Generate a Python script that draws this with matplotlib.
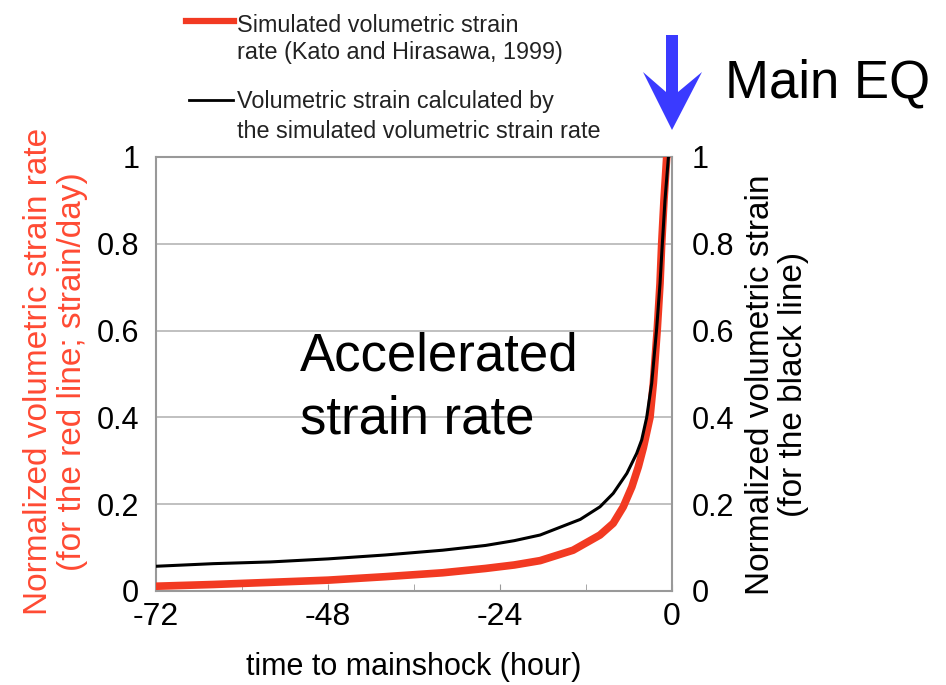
import matplotlib
matplotlib.use("Agg")
import matplotlib.pyplot as plt
from matplotlib.lines import Line2D
from matplotlib.patches import Polygon

plt.rcParams['font.family'] = ['Liberation Sans', 'DejaVu Sans']
plt.rcParams['axes.unicode_minus'] = False

# hours before the main shock
t_rate = [-72, -64, -56, -48, -40, -32, -26, -22, -18.4, -13.8, -10.05, -8.2, -6.8,
          -5.6, -4.7, -4.0, -3.07, -2.6, -2.05, -1.67, -1.44, -1.12, -0.74]
rate = [0.011, 0.015, 0.020, 0.025, 0.033, 0.042, 0.052, 0.060, 0.070, 0.094, 0.129,
        0.156, 0.194, 0.24, 0.286, 0.33, 0.40, 0.479, 0.605, 0.709, 0.80, 0.90, 1.0]

t_strain = [-72, -64, -56, -48, -40, -32, -26, -22, -18.4, -15.6, -12.8, -10.05, -8.2,
            -6.3, -4.93, -4.23, -3.53, -2.83, -2.14, -1.67, -1.35, -0.98, -0.5]
strain = [0.057, 0.063, 0.067, 0.074, 0.083, 0.094, 0.105, 0.116, 0.129, 0.147, 0.165,
          0.194, 0.225, 0.271, 0.317, 0.348, 0.40, 0.479, 0.605, 0.709, 0.80, 0.90, 1.0]

x_ticks = [-72, -48, -24, 0]
x_minor = [-60, -36, -12]
y_ticks = [0, 0.2, 0.4, 0.6, 0.8, 1]
y_labels = ['0', '0.2', '0.4', '0.6', '0.8', '1']

red = '#f23a22'
red_lab = '#ff4a33'
W, H = 946, 685

fig = plt.figure(figsize=(W / 100, H / 100), dpi=100)
ax = fig.add_axes([156 / W, 1 - 591 / H, 516 / W, 434 / H])

ax.plot(t_rate, rate, color=red, lw=5.5, solid_joinstyle='round', zorder=3)
ax.set_xlim(-72, 0)
ax.set_ylim(0, 1)

for s in ax.spines.values():
    s.set_color('#999999')
    s.set_linewidth(1.5)
for v in y_ticks[1:-1]:
    ax.axhline(v, color='#bbbbbb', lw=1.3, zorder=1)

ax.set_xticks(x_ticks)
ax.set_xticks(x_minor, minor=True)
ax.tick_params(axis='x', which='both', direction='in', length=5, color='#999999',
               labelsize=23, pad=8)
ax.set_yticks(y_ticks)
ax.set_yticklabels(y_labels)
ax.tick_params(axis='y', length=0, labelsize=22, pad=12)

ax2 = ax.twinx()
ax2.plot(t_strain, strain, color='black', lw=2.2, solid_joinstyle='round', zorder=4)
ax2.set_ylim(0, 1)
ax2.set_yticks(y_ticks)
ax2.set_yticklabels(y_labels)
ax2.tick_params(axis='y', length=0, labelsize=22, pad=14)
for s in ax2.spines.values():
    s.set_visible(False)

ax.set_xlabel('time to mainshock (hour)', fontsize=22, labelpad=14)
ax.set_ylabel('Normalized volumetric strain rate\n(for the red line; strain/day)',
              fontsize=24, color=red_lab, linespacing=1.1)
ax.yaxis.set_label_coords(-0.132, 0.505)
ax2.set_ylabel('Normalized volumetric strain\n(for the black line)',
               fontsize=24, linespacing=1.1)
ax2.yaxis.set_label_coords(1.141, 0.475)

ax.text(0.279, 0.509, 'Accelerated', transform=ax.transAxes, fontsize=38,
        va='baseline', zorder=5)
ax.text(0.279, 0.364, 'strain rate', transform=ax.transAxes, fontsize=38,
        va='baseline', zorder=5)

# legend drawn by hand above the plot
fig.add_artist(Line2D([186 / W, 234 / W], [1 - 21 / H, 1 - 21 / H], color=red, lw=4.5))
fig.add_artist(Line2D([189 / W, 233 / W], [1 - 99.5 / H, 1 - 99.5 / H], color='black', lw=2))
leg_lines = ['Simulated volumetric strain', 'rate (Kato and Hirasawa, 1999)',
             'Volumetric strain calculated by', 'the simulated volumetric strain rate']
leg_base = [32, 59, 108, 138]
for txt, yb in zip(leg_lines, leg_base):
    fig.text(237 / W, 1 - yb / H, txt, fontsize=16.8, color='#222222', va='baseline')

# blue arrow marking the main shock
arrow_px = [(666, 35), (678, 35), (678, 92), (702, 72), (672, 130),
            (643, 72), (666, 92)]
fig.add_artist(Polygon([(x / W, 1 - y / H) for x, y in arrow_px], closed=True,
                       transform=fig.transFigure, facecolor='#3a3aff', edgecolor='none'))
fig.text(725 / W, 1 - 98 / H, 'Main EQ', fontsize=38, va='baseline')

fig.savefig('out.png', dpi=100)
